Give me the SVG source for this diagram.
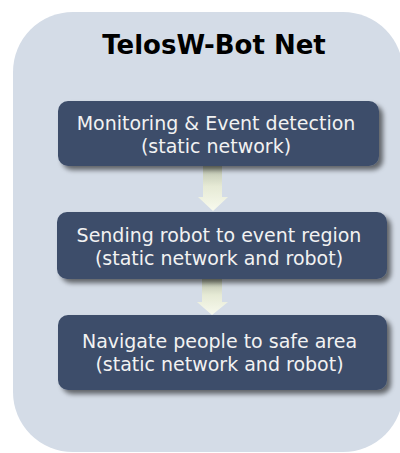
<svg xmlns="http://www.w3.org/2000/svg" width="400" height="453" viewBox="0 0 400 453">
  <defs>
    <style>
      .title { font-family: "DejaVu Sans", Verdana, sans-serif; font-weight: bold; font-size: 26px; fill: #000; text-anchor: middle; }
      .box { fill: #3e4e6b; filter: url(#shadow); }
      .label { font-family: "DejaVu Sans", Verdana, sans-serif; font-size: 19px; fill: #f2f2f2; text-anchor: middle; }
      .arrow { fill: url(#arrowGrad); }
    </style>
    <filter id="shadow" x="-10%" y="-20%" width="125%" height="160%">
      <feGaussianBlur in="SourceAlpha" stdDeviation="2.5"/>
      <feOffset dx="4" dy="4" result="b"/>
      <feComponentTransfer><feFuncA type="linear" slope="0.55"/></feComponentTransfer>
      <feMerge><feMergeNode/><feMergeNode in="SourceGraphic"/></feMerge>
    </filter>
    <linearGradient id="arrowGrad" x1="0" y1="0" x2="0" y2="1">
      <stop offset="0" stop-color="#b9c0ad"/>
      <stop offset="0.45" stop-color="#e6ead5"/>
      <stop offset="1" stop-color="#f8faee"/>
    </linearGradient>
  </defs>

  <!-- background panel -->
  <rect x="13" y="12" width="390" height="440" rx="60" ry="60" fill="#d4dce7"/>
  <text class="title" x="214" y="54">TelosW-Bot Net</text>

  <!-- connectors -->
  <g id="connectors">
    <path class="arrow" d="M203,166 H222 V197 H228 L213,211 L198,197 H203 Z"/>
    <path class="arrow" d="M202,279 H222 V302 H228 L212,315 L197,302 H202 Z"/>
  </g>

  <g id="node-monitoring">
    <rect class="box" x="58" y="101" width="321" height="65" rx="10" ry="10"/>
    <text class="label" x="216" y="130">Monitoring &amp; Event detection</text>
    <text class="label" x="216" y="153">(static network)</text>
  </g>

  <g id="node-sending">
    <rect class="box" x="57" y="212" width="330" height="67" rx="10" ry="10"/>
    <text class="label" x="219" y="242">Sending robot to event region</text>
    <text class="label" x="219" y="265">(static network and robot)</text>
  </g>

  <g id="node-navigate">
    <rect class="box" x="58" y="315" width="329" height="75" rx="10" ry="10"/>
    <text class="label" x="219.5" y="348">Navigate people to safe area</text>
    <text class="label" x="219.5" y="371">(static network and robot)</text>
  </g>
</svg>
